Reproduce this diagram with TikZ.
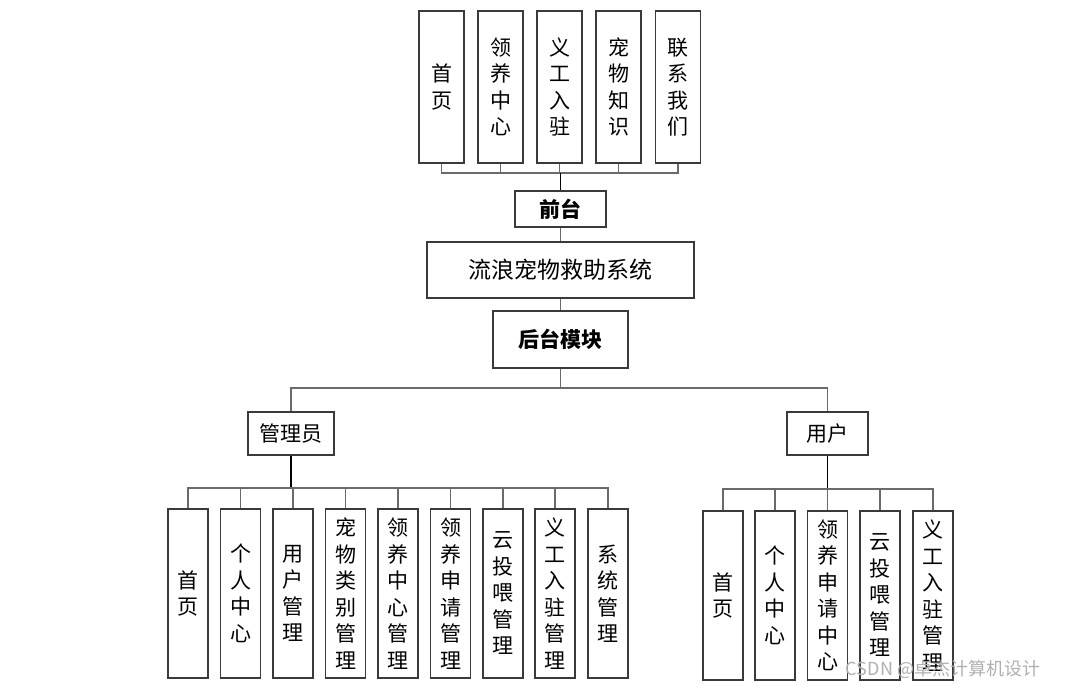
\documentclass[tikz,border=0pt]{standalone}
\usepackage{fontspec}
\usepackage{xcolor}
\setmainfont{Noto Sans CJK SC}
\usetikzlibrary{positioning}
\definecolor{PetLine}{HTML}{3A3A3A}
\definecolor{PetLink}{HTML}{6A6A6A}
\definecolor{PetMark}{HTML}{B0B0B0}

\begin{document}
\begin{tikzpicture}[x=1pt,y=-1pt,
    petbox/.style={draw=PetLine,line width=1.1pt,fill=white,inner sep=0pt,
      align=center,font=\fontsize{21}{26.5}\selectfont},
    topbox/.style={petbox,minimum width=45pt,minimum height=152pt},
    tallbox/.style={petbox,minimum width=40pt,minimum height=169pt},
    link/.style={draw=PetLink,line width=1.2pt}]
  \useasboundingbox (0,0) rectangle (1065,688);

  % front end menu
  \foreach \x/\lab/\name in {441.5/首\\页/t1,500.5/领\\养\\中\\心/t2,
      559.5/义\\工\\入\\驻/t3,618.5/宠\\物\\知\\识/t4,678/联\\系\\我\\们/t5}{
    \node[topbox] (\name) at (\x,87) {\lab};
  }
  \node[petbox,minimum width=91pt,minimum height=36pt,
    font=\bfseries\fontsize{21}{24}\selectfont] (front) at (560.5,209) {前台};
  \coordinate (tbar) at (560.5,173);
  \foreach \name in {t1,t2,t3,t4,t5}
    \draw[link] (\name.south) |- (tbar);
  \draw[link,draw=black] (tbar) -- (front.north);

  % system and back end
  \node[petbox,minimum width=267pt,minimum height=56pt,
    font=\fontsize{23}{26}\selectfont] (sys) at (560.5,270) {流浪宠物救助系统};
  \node[petbox,minimum width=135pt,minimum height=57pt,
    font=\bfseries\fontsize{21}{24}\selectfont] (back) at (560.5,339.5) {后台模块};
  \draw[link] (front.south) -- (sys.north);
  \draw[link] (sys.south) -- (back.north);

  \node[petbox,minimum width=86pt,minimum height=43pt] (adm) at (291,433.5) {管理员};
  \node[petbox,minimum width=81pt,minimum height=43pt] (usr) at (827.5,433.5) {用户};
  \coordinate (bbar) at (560.5,388);
  \draw[link] (back.south) -- (bbar);
  \draw[link] (adm.north) |- (bbar);
  \draw[link] (usr.north) |- (bbar);

  % administrator
  \coordinate (abar) at (291,488);
  \draw[link,draw=black] (adm.south) -- (abar);
  \foreach \x/\lab/\name in {188/首\\页/a1,240.5/个\\人\\中\\心/a2,
      293/用\\户\\管\\理/a3,345.5/宠\\物\\类\\别\\管\\理/a4,
      398/领\\养\\中\\心\\管\\理/a5,450.5/领\\养\\申\\请\\管\\理/a6,
      503/云\\投\\喂\\管\\理/a7,555/义\\工\\入\\驻\\管\\理/a8,
      608/系\\统\\管\\理/a9}{
    \node[tallbox] (\name) at (\x,593.5) {\lab};
    \draw[link] (\name.north) |- (abar);
  }

  % user
  \coordinate (ubar) at (827.5,489);
  \draw[link,draw=black] (usr.south) -- (ubar);
  \foreach \x/\lab/\name in {723/首\\页/u1,775/个\\人\\中\\心/u2,
      827.5/领\\养\\申\\请\\中\\心/u3,880/云\\投\\喂\\管\\理/u4,
      933/义\\工\\入\\驻\\管\\理/u5}{
    \node[tallbox] (\name) at (\x,595.5) {\lab};
    \draw[link] (\name.north) |- (ubar);
  }

  \node[text=PetMark,font=\fontsize{18}{20}\selectfont] (mark) at (943,669)
    {CSDN @卓杰计算机设计};
\end{tikzpicture}
\end{document}
